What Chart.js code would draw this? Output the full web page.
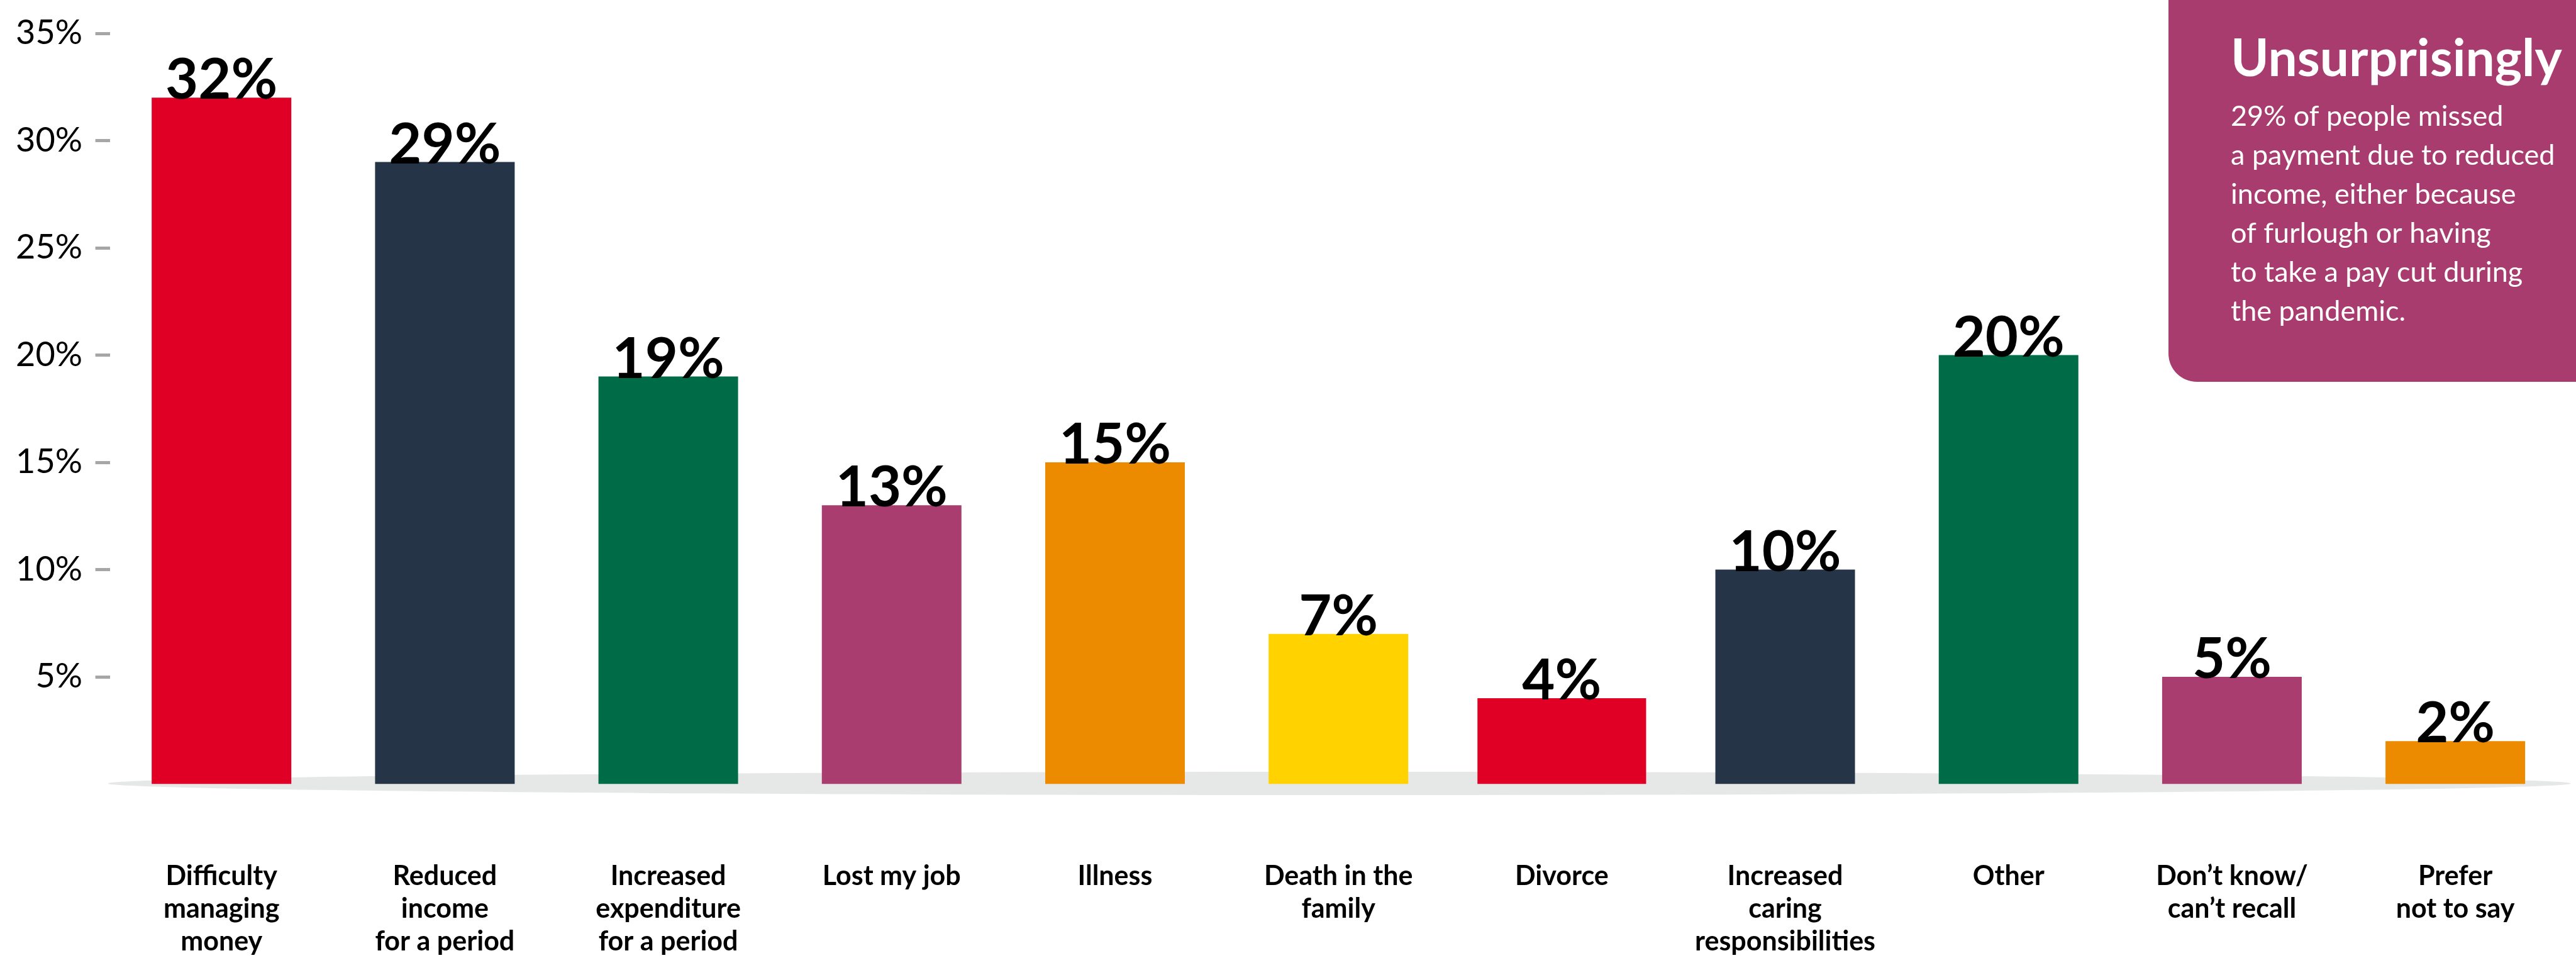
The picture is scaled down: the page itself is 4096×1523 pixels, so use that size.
<!DOCTYPE html>
<html lang="en">
<head>
<meta charset="UTF-8">
<title>Reasons for missing a payment</title>
<script src="https://cdn.jsdelivr.net/npm/chart.js"></script>
<style>
    html, body { margin: 0; padding: 0; background: #fff; }
    #wrap { position: relative; width: 4096px; height: 1523px; }
</style>
</head>
<body>
<div id="wrap"><canvas id="graph"></canvas></div>
<script>
    // data
    const categories = [
        ['Difficulty', 'managing', 'money'],
        ['Reduced', 'income', 'for a period'],
        ['Increased', 'expenditure', 'for a period'],
        ['Lost my job'],
        ['Illness'],
        ['Death in the', 'family'],
        ['Divorce'],
        ['Increased', 'caring', 'responsibilities'],
        ['Other'],
        ['Don\u2019t know/', 'can\u2019t recall'],
        ['Prefer', 'not to say']
    ];
    const percentages = [32, 29, 19, 13, 15, 7, 4, 10, 20, 5, 2];
    const barColours = ['#e00025', '#253547', '#006b47', '#a93d6f', '#ec8a00', '#ffd200',
                        '#e00025', '#253547', '#006b47', '#a93d6f', '#ec8a00'];
    const yTicks = [5, 10, 15, 20, 25, 30, 35];
    const wideBar = 'Divorce';   // this one is drawn a bit wider

    const calloutTitle = 'Unsurprisingly';
    const calloutLines = [
        '29% of people missed',
        'a payment due to reduced',
        'income, either because',
        'of furlough or having',
        'to take a pay cut during',
        'the pandemic.'
    ];

    const FONT = 'Lato, "Open Sans", sans-serif';
    Chart.defaults.font.family = FONT;
    Chart.defaults.color = '#000';

    const wideIdx = categories.findIndex(c => c[0] === wideBar);
    const normalData = percentages.map((v, i) => i === wideIdx ? null : v);
    const wideData = percentages.map((v, i) => i === wideIdx ? v : null);

    // grey floor shadow under the bars
    const floorShadow = {
        id: 'floorShadow',
        beforeDatasetsDraw(chart) {
            const { ctx, chartArea } = chart;
            const y0 = chart.scales.y.getPixelForValue(0);
            const x1 = chartArea.left - 3, x2 = chartArea.right + 6;
            ctx.save();
            ctx.fillStyle = '#e6e8e7';
            ctx.beginPath();
            ctx.ellipse((x1 + x2) / 2, y0 - 1, (x2 - x1) / 2, 18.5, 0, 0, Math.PI * 2);
            ctx.fill();
            ctx.restore();
        }
    };

    // percentage on top of each bar
    const valueLabels = {
        id: 'valueLabels',
        afterDatasetsDraw(chart) {
            const { ctx } = chart;
            ctx.save();
            ctx.font = 'bold 90px ' + FONT;
            ctx.fillStyle = '#000';
            ctx.textAlign = 'center';
            ctx.textBaseline = 'alphabetic';
            chart.data.datasets.forEach((ds, di) => {
                chart.getDatasetMeta(di).data.forEach((bar, i) => {
                    const v = ds.data[i];
                    if (v == null) return;
                    ctx.fillText(v + '%', bar.x, bar.y + 2);
                });
            });
            ctx.restore();
        }
    };

    // text box in the top right corner
    const callout = {
        id: 'callout',
        afterDraw(chart) {
            const { ctx, width } = chart;
            const left = 3448, bottom = 607, r = 45;
            ctx.save();
            ctx.fillStyle = '#a83c6e';
            ctx.beginPath();
            ctx.moveTo(left, -10);
            ctx.lineTo(width + 10, -10);
            ctx.lineTo(width + 10, bottom);
            ctx.lineTo(left + r, bottom);
            ctx.arcTo(left, bottom, left, bottom - r, r);
            ctx.closePath();
            ctx.fill();

            ctx.fillStyle = '#fff';
            ctx.textAlign = 'left';
            ctx.textBaseline = 'alphabetic';
            ctx.font = 'bold 82px ' + FONT;
            ctx.fillText(calloutTitle, 3547, 121);
            ctx.font = '45px ' + FONT;
            calloutLines.forEach((line, i) => ctx.fillText(line, 3547, 200 + i * 62));
            ctx.restore();
        }
    };

    new Chart(document.getElementById('graph'), {
        type: 'bar',
        data: {
            labels: categories,
            datasets: [{
                data: normalData,
                backgroundColor: barColours,
                borderWidth: 0,
                grouped: false,
                categoryPercentage: 1,
                barPercentage: 0.625
            }, {
                data: wideData,
                backgroundColor: barColours,
                borderWidth: 0,
                grouped: false,
                categoryPercentage: 1,
                barPercentage: 0.755
            }]
        },
        options: {
            responsive: true,
            maintainAspectRatio: false,
            animation: false,
            events: [],
            layout: { padding: { top: 43.5, right: 14.3, bottom: 0, left: 0 } },
            plugins: {
                legend: { display: false },
                tooltip: { enabled: false }
            },
            scales: {
                x: {
                    // invisible tick marks push the labels down without adding side padding
                    grid: {
                        drawOnChartArea: false,
                        drawTicks: true,
                        tickLength: 121,
                        tickColor: 'rgba(0,0,0,0)'
                    },
                    border: { display: false },
                    ticks: {
                        padding: 0,
                        maxRotation: 0,
                        autoSkip: false,
                        color: '#000',
                        font: { size: 43, weight: 'bold', lineHeight: 1.21 }
                    },
                    afterFit: axis => { axis.height = 276.5; }
                },
                y: {
                    min: 0,
                    max: 35,
                    grid: {
                        drawOnChartArea: false,
                        drawTicks: true,
                        tickLength: 23,
                        tickWidth: 5,
                        tickColor: '#a6a6a6'
                    },
                    border: { display: false },
                    ticks: {
                        padding: 20.6,
                        color: '#000',
                        font: { size: 54 },
                        callback: v => v + '%'
                    },
                    afterBuildTicks: axis => { axis.ticks = yTicks.map(v => ({ value: v })); },
                    afterFit: axis => { axis.width = 174.6; }
                }
            }
        },
        plugins: [floorShadow, valueLabels, callout]
    });
</script>
</body>
</html>
